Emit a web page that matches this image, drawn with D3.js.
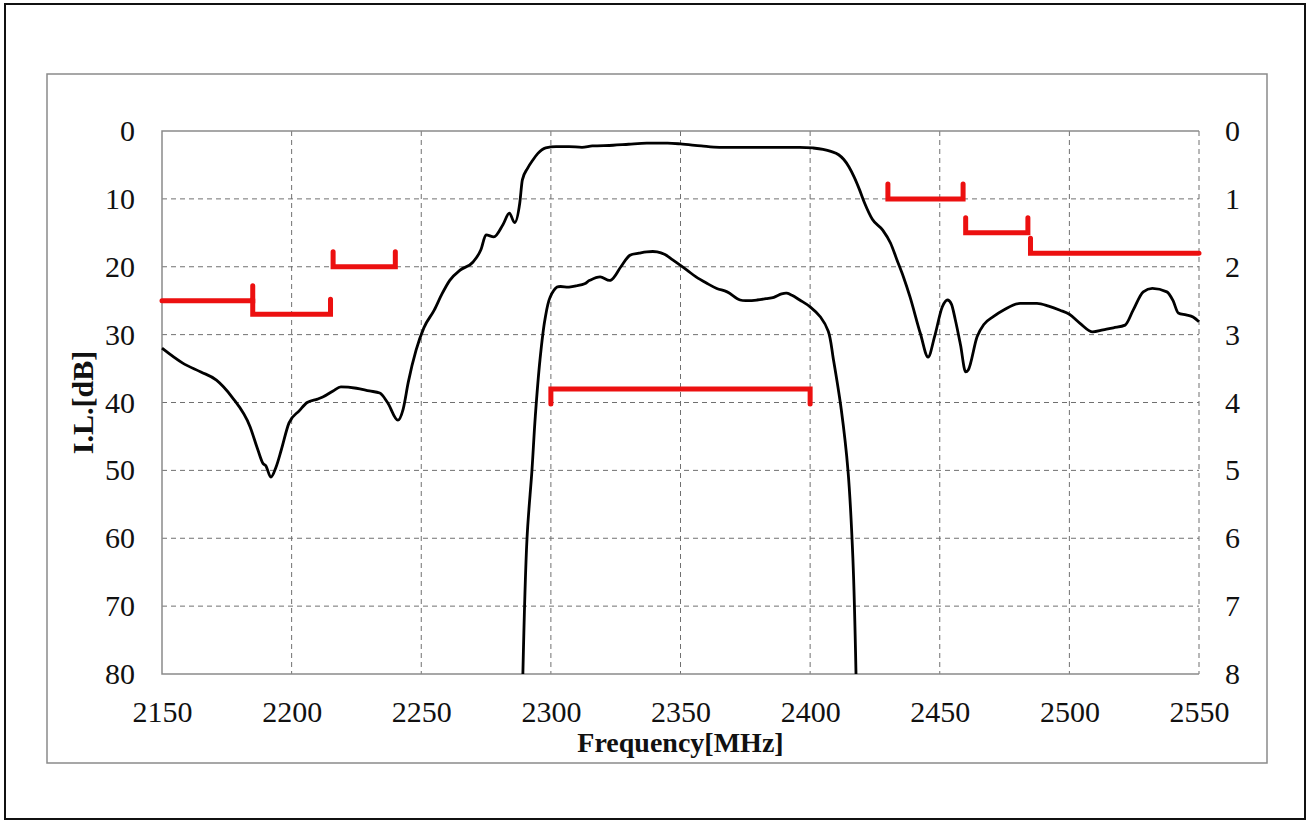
<!DOCTYPE html>
<html>
<head>
<meta charset="utf-8">
<script src="https://cdn.jsdelivr.net/npm/d3@7"></script>
<style>
  body { margin: 0; background: #fff; }
  svg { display: block; }
</style>
</head>
<body>
<div id="chart"></div>
<script>
// wideband attenuation (left axis, dB)
const wideFreq = [2150, 2158, 2165, 2171, 2177, 2184, 2187, 2189, 2190, 2192, 2194, 2196, 2199, 2203, 2206, 2210, 2212, 2216, 2219, 2225, 2230, 2234, 2237, 2241, 2243, 2245, 2248, 2251, 2255, 2258, 2261, 2265, 2270, 2273, 2275, 2278, 2281.5, 2284, 2286, 2288, 2289, 2291, 2293, 2295, 2298, 2302, 2307, 2312, 2316, 2324, 2330, 2337, 2345, 2350, 2358, 2365, 2380, 2396, 2401, 2405, 2408, 2411, 2413, 2415, 2417, 2419, 2421, 2424, 2428, 2431, 2433.5, 2436, 2438.5, 2442.5, 2445.5, 2448, 2451, 2453, 2454.5, 2456, 2458, 2460, 2461, 2464.4, 2467, 2470.5, 2475, 2481, 2487.5, 2492, 2496.4, 2500, 2504, 2509, 2513, 2517, 2521.5, 2524.6, 2528.5, 2532, 2537.6, 2540, 2542, 2545, 2547.7, 2550];
const wideLoss = [32.0, 34.2, 35.5, 36.7, 39.2, 43.6, 47.0, 49.0, 49.3, 51.0, 49.5, 47.0, 43.0, 41.2, 40.0, 39.5, 39.2, 38.3, 37.7, 37.9, 38.3, 38.6, 40.0, 42.6, 41.0, 37.0, 32.3, 29.0, 26.4, 24.0, 22.0, 20.5, 19.3, 17.5, 15.3, 15.6, 13.8, 12.1, 13.5, 10.6, 7.2, 5.5, 4.3, 3.3, 2.5, 2.3, 2.3, 2.4, 2.2, 2.1, 1.95, 1.8, 1.8, 1.9, 2.2, 2.4, 2.4, 2.4, 2.5, 2.7, 3.0, 3.5, 4.2, 5.3, 6.8, 8.6, 10.6, 13.0, 14.6, 16.5, 19.0, 21.5, 24.4, 29.8, 33.3, 30.3, 25.9, 24.9, 25.5, 27.8, 31.5, 35.5, 35.2, 30.3, 28.5, 27.4, 26.3, 25.4, 25.4, 25.8, 26.4, 27.0, 28.3, 29.6, 29.3, 29.0, 28.6, 26.4, 23.7, 23.2, 23.7, 25.0, 26.8, 27.1, 27.4, 28.1];

// passband insertion loss (right axis, dB)
const passFreq = [2289.2, 2290.8, 2292.7, 2294, 2295.8, 2297.7, 2299.7, 2302.4, 2307, 2310, 2313, 2315, 2319, 2323, 2327, 2330.5, 2334, 2337, 2341, 2344, 2347, 2352.5, 2356, 2360, 2364, 2368, 2373, 2376, 2379.5, 2383, 2386, 2389, 2391, 2393, 2396, 2400, 2404, 2407, 2409, 2412, 2414.6, 2416.5, 2417.7];
const passLoss = [8.0, 6.0, 5.0, 4.2, 3.37, 2.78, 2.45, 2.3, 2.3, 2.28, 2.25, 2.2, 2.15, 2.2, 2.0, 1.83, 1.8, 1.78, 1.78, 1.82, 1.9, 2.05, 2.15, 2.24, 2.32, 2.37, 2.49, 2.5, 2.49, 2.47, 2.45, 2.4, 2.39, 2.42, 2.49, 2.59, 2.74, 2.95, 3.37, 4.1, 5.0, 6.3, 8.0];

// spec limits
const specStart = [2150, 2185, 2216, 2300, 2430, 2460, 2485];
const specEnd = [2185, 2215, 2240, 2400, 2459, 2484, 2550];
const specLevel = [25, 27, 20, 3.8, 10, 15, 18];
const specAxis = ['left', 'left', 'left', 'right', 'left', 'left', 'left'];
const specTickStart = [false, true, true, true, true, true, true];
const specTickEnd = [true, true, true, true, true, true, false];

const xTicks = [2150, 2200, 2250, 2300, 2350, 2400, 2450, 2500, 2550];
const leftTicks = [0, 10, 20, 30, 40, 50, 60, 70, 80];
const rightTicks = [0, 1, 2, 3, 4, 5, 6, 7, 8];

const W = 1312;
const H = 820;
const plot = { left: 162, right: 1199, top: 131, bottom: 674 };
const font = '"Liberation Serif", "Times New Roman", serif';
const red = '#ec1010';

const svg = d3
  .select('#chart')
  .append('svg')
  .attr('width', W)
  .attr('height', H);

// outer frame
svg
  .append('rect')
  .attr('x', 5)
  .attr('y', 4)
  .attr('width', 1300)
  .attr('height', 815)
  .attr('fill', '#fff')
  .attr('stroke', '#111')
  .attr('stroke-width', 2);

// chart area box
svg
  .append('rect')
  .attr('x', 47)
  .attr('y', 74)
  .attr('width', 1220)
  .attr('height', 689)
  .attr('fill', '#fff')
  .attr('stroke', '#8a8a8a')
  .attr('stroke-width', 1.5);

const x = d3.scaleLinear().domain([2150, 2550]).range([plot.left, plot.right]);
const yL = d3.scaleLinear().domain([0, 80]).range([plot.top, plot.bottom]);
const yR = d3.scaleLinear().domain([0, 8]).range([plot.top, plot.bottom]);

// grid
svg
  .append('g')
  .selectAll('line')
  .data(xTicks.slice(1))
  .enter()
  .append('line')
  .attr('x1', (d) => x(d))
  .attr('x2', (d) => x(d))
  .attr('y1', plot.top)
  .attr('y2', plot.bottom)
  .attr('stroke', '#707070')
  .attr('stroke-width', 1)
  .attr('stroke-dasharray', '5,4');

svg
  .append('g')
  .selectAll('line')
  .data(leftTicks.slice(1, -1))
  .enter()
  .append('line')
  .attr('x1', plot.left)
  .attr('x2', plot.right)
  .attr('y1', (d) => yL(d))
  .attr('y2', (d) => yL(d))
  .attr('stroke', '#707070')
  .attr('stroke-width', 1)
  .attr('stroke-dasharray', '5,4');

// plot border (top, left, bottom solid)
svg
  .append('path')
  .attr('d', `M${plot.right},${plot.top}H${plot.left}V${plot.bottom}H${plot.right}`)
  .attr('fill', 'none')
  .attr('stroke', '#8a8a8a')
  .attr('stroke-width', 1.5);

// axes
const axisLeft = svg
  .append('g')
  .attr('transform', `translate(${plot.left},0)`)
  .call(d3.axisLeft(yL).tickValues(leftTicks).tickSize(0).tickPadding(27));

const axisRight = svg
  .append('g')
  .attr('transform', `translate(${plot.right},0)`)
  .call(d3.axisRight(yR).tickValues(rightTicks).tickSize(0).tickPadding(26));

const axisBottom = svg
  .append('g')
  .attr('transform', `translate(0,${plot.bottom})`)
  .call(d3.axisBottom(x).tickValues(xTicks).tickSize(0).tickPadding(27).tickFormat(d3.format('d')));

[axisLeft, axisRight, axisBottom].forEach((g) => {
  g.attr('font-family', null);
  g.select('.domain').remove();
  g.selectAll('text')
    .style('font-family', font)
    .style('font-size', '30px')
    .attr('fill', '#111');
});

// curves
const wideLine = d3
  .line()
  .x((d, i) => x(wideFreq[i]))
  .y((d) => yL(d))
  .curve(d3.curveMonotoneX);

const passLine = d3
  .line()
  .x((d, i) => x(passFreq[i]))
  .y((d) => yR(d))
  .curve(d3.curveCatmullRom);

svg
  .append('path')
  .datum(wideLoss)
  .attr('d', wideLine)
  .attr('fill', 'none')
  .attr('stroke', '#000')
  .attr('stroke-width', 2.8)
  .attr('stroke-linejoin', 'round');

svg
  .append('path')
  .datum(passLoss)
  .attr('d', passLine)
  .attr('fill', 'none')
  .attr('stroke', '#000')
  .attr('stroke-width', 2.8)
  .attr('stroke-linejoin', 'round');

// spec brackets
const tick = 15;
svg
  .append('g')
  .selectAll('path')
  .data(specLevel)
  .enter()
  .append('path')
  .attr('d', (d, i) => {
    const y = specAxis[i] === 'left' ? yL(d) : yR(d);
    const t = specAxis[i] === 'left' ? -tick : tick;
    const x1 = x(specStart[i]);
    const x2 = x(specEnd[i]);
    let p = specTickStart[i] ? `M${x1},${y + t}L${x1},${y}` : `M${x1},${y}`;
    p += `L${x2},${y}`;
    if (specTickEnd[i]) p += `L${x2},${y + t}`;
    return p;
  })
  .attr('fill', 'none')
  .attr('stroke', red)
  .attr('stroke-width', 5)
  .attr('stroke-linecap', 'round')
  .attr('stroke-linejoin', 'miter');

// axis titles
svg
  .append('text')
  .text('Frequency[MHz]')
  .attr('x', (plot.left + plot.right) / 2)
  .attr('y', 752)
  .attr('text-anchor', 'middle')
  .style('font-family', font)
  .style('font-weight', 'bold')
  .style('font-size', '28px')
  .attr('fill', '#111');

svg
  .append('text')
  .text('I.L.[dB]')
  .attr('transform', `translate(93,${(plot.top + plot.bottom) / 2}) rotate(-90)`)
  .attr('text-anchor', 'middle')
  .style('font-family', font)
  .style('font-weight', 'bold')
  .style('font-size', '30px')
  .attr('fill', '#111');
</script>
</body>
</html>
